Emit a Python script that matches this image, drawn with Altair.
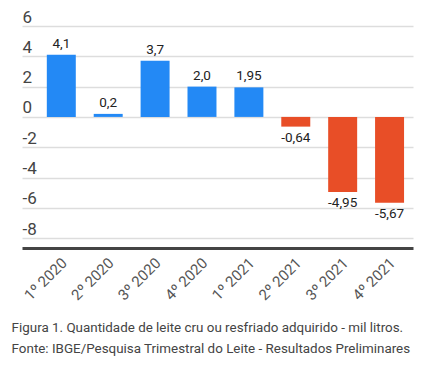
import altair as alt
import pandas as pd

quarters = ["1º 2020", "2º 2020", "3º 2020", "4º 2020", "1º 2021", "2º 2021", "3º 2021", "4º 2021"]
values = [4.1, 0.2, 3.7, 2.0, 1.95, -0.64, -4.95, -5.67]
labels = ["4,1", "0,2", "3,7", "2,0", "1,95", "-0,64", "-4,95", "-5,67"]
y_ticks = [-8, -6, -4, -2, 0, 2, 4, 6]
caption = [
    "Figura 1. Quantidade de leite cru ou resfriado adquirido - mil litros.",
    "Fonte: IBGE/Pesquisa Trimestral do Leite - Resultados Preliminares",
]

df = pd.DataFrame({"q": quarters, "v": values, "lab": labels})
df["sign"] = ["pos" if v >= 0 else "neg" for v in values]

FONT = "Roboto"

x = alt.X(
    "q:N", sort=quarters, title=None,
    scale=alt.Scale(paddingInner=0.382, paddingOuter=0.36, align=0.735),
    axis=alt.Axis(labelAngle=-45, labelAlign="right", labelBaseline="middle",
                  labelPadding=12, labelOffset=3, labelFontSize=15, labelColor="#555555",
                  labelFont=FONT, ticks=False, domainColor="#444444",
                  domainWidth=3, grid=False, labelOverlap=False),
)
y = alt.Y(
    "v:Q", title=None,
    scale=alt.Scale(domain=[-8.65, 6], nice=False, zero=False),
    axis=alt.Axis(values=y_ticks, labelExpr="'' + datum.value", labelAlign="left",
                  labelBaseline="alphabetic", labelOffset=-4, labelPadding=0,
                  labelFontSize=17, labelColor="#444444", labelFont=FONT,
                  labelOverlap=False, labelFlush=False,
                  ticks=False, domain=False, grid=True, gridColor="#dddddd",
                  gridWidth=1.5),
)

bars = alt.Chart(df).mark_bar().encode(
    x=x, y=y,
    color=alt.Color("sign:N", scale=alt.Scale(domain=["pos", "neg"], range=["#2389F5", "#E84E27"]), legend=None),
)

pos_text = alt.Chart(df).transform_filter("datum.v >= 0").mark_text(
    baseline="bottom", dy=-4, fontSize=13.5, font=FONT, color="#222222"
).encode(x=x, y=y, text="lab:N")

neg_text = alt.Chart(df).transform_filter("datum.v < 0").mark_text(
    baseline="top", dy=4, fontSize=13.5, font=FONT, color="#222222"
).encode(x=x, y=y, text="lab:N")

chart = alt.layer(bars, pos_text, neg_text).properties(
    width=391, height=222,
    padding={"left": 14, "top": 18, "right": 3, "bottom": 120},
    autosize=alt.AutoSizeParams(type="none"),
    title=alt.TitleParams(text=caption, orient="bottom", anchor="start", dx=-10,
                          offset=18, fontSize=13.4, lineHeight=21,
                          font=FONT,
                          fontWeight="normal", color="#444444"),
).configure_view(stroke=None).configure_axis(labelFontWeight="normal")

chart.save("out.html", embed_options={"renderer": "svg", "actions": False})
